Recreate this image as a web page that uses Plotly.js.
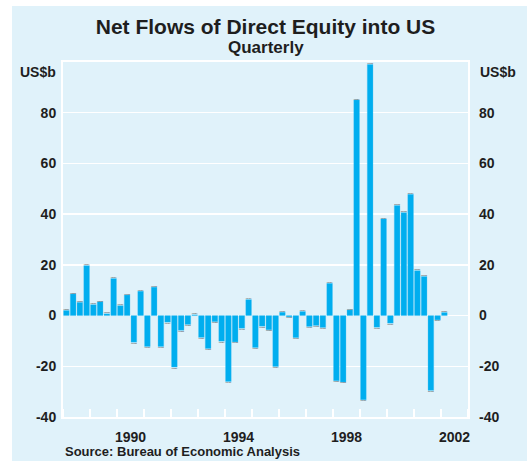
<!DOCTYPE html>
<html>
<head>
<meta charset="utf-8">
<script src="https://cdn.plot.ly/plotly-3.0.1.min.js"></script>
<style>
  html, body { margin: 0; padding: 0; background: #ffffff; }
  #chart { position: absolute; left: 12px; top: 6px; width: 515px; height: 455px; }
</style>
</head>
<body>
<div id="chart"></div>
<script>
// Quarterly periods, 1988 Q1 to 2002 Q1
const quarters = [];
for (let y = 1988; y <= 2002; y++) {
  for (let q = 1; q <= 4; q++) {
    if (y === 2002 && q > 1) break;
    quarters.push(y + 'Q' + q);
  }
}
// Net flows, US$b
const netFlows = [
  2.0, 8.5, 5.2, 19.7,
  4.3, 5.4, 0.7, 14.6,
  3.9, 8.1, -10.5, 9.6,
  -12.2, 11.2, -12.2, -2.6,
  -20.3, -5.8, -3.5, 0.3,
  -8.6, -13.0, -2.4, -10.1,
  -26.0, -10.4, -5.0, 6.3,
  -12.6, -4.2, -5.6, -20.1,
  1.3, -0.5, -8.7, 1.6,
  -4.3, -3.9, -4.7, 12.7,
  -25.7, -26.2, 2.2, 85.0,
  -33.2, 99.0, -4.6, 38.1,
  -3.0, 43.4, 40.6, 47.8,
  17.7, 15.4, -29.5, -1.7,
  1.2
];
const yearLabels = ['1990', '1994', '1998', '2002'];
const yTicks = [-40, -20, 0, 20, 40, 60, 80];

// position of each quarter (mid-quarter, in years)
const xPos = quarters.map(s => {
  const y = parseInt(s.slice(0, 4), 10);
  const q = parseInt(s.slice(5), 10);
  return y + (q - 0.5) / 4;
});
const yearLabelPos = yearLabels.map(s => parseInt(s, 10) + 0.5);

const FONT = 'Arial, "Liberation Sans", Helvetica, sans-serif';
const TXT = '#1e1e1e';
const BG = '#E0F2FA';

const trace = {
  type: 'bar',
  x: xPos,
  y: netFlows,
  text: quarters,
  hoverinfo: 'text+y',
  marker: { color: '#00AEEF', line: { color: '#3DBDF0', width: 0.3 } },
  showlegend: false
};

const layout = {
  width: 515,
  height: 455,
  margin: { l: 51, r: 59, t: 56, b: 44 },
  paper_bgcolor: BG,
  plot_bgcolor: BG,
  bargap: 0.16,
  font: { family: FONT, color: TXT, size: 14 },
  title: {
    text: '<b>Net Flows of Direct Equity into US</b>',
    font: { family: FONT, size: 21, color: TXT },
    x: 0.5, xref: 'paper', xanchor: 'center',
    y: 1 - 21 / 455, yref: 'container', yanchor: 'middle'
  },
  xaxis: {
    range: [1988, 2003],
    tickmode: 'array',
    tickvals: yearLabelPos,
    ticktext: yearLabels.map(s => '<b>' + s + '</b>'),
    ticks: '',
    ticklabelstandoff: 6,
    tickfont: { family: FONT, size: 14, color: TXT },
    showgrid: false,
    zeroline: false,
    showline: true, linecolor: '#ffffff', linewidth: 2, mirror: true,
    minor: { tickmode: 'linear', tick0: 1988, dtick: 1, ticks: 'inside', ticklen: 8, tickwidth: 1.5, tickcolor: '#ffffff', showgrid: false },
    fixedrange: true
  },
  yaxis: {
    range: [-40, 100],
    tickmode: 'array',
    tickvals: yTicks,
    ticktext: yTicks.map(v => '<b>' + v + '</b>'),
    ticks: '',
    ticklabelstandoff: 2,
    tickfont: { family: FONT, size: 14, color: TXT },
    showgrid: true, gridcolor: '#ffffff', gridwidth: 1.5,
    zeroline: true, zerolinecolor: '#ffffff', zerolinewidth: 1.5,
    showline: true, linecolor: '#ffffff', linewidth: 2, mirror: true,
    fixedrange: true
  },
  yaxis2: {
    overlaying: 'y',
    side: 'right',
    range: [-40, 100],
    tickmode: 'array',
    tickvals: yTicks,
    ticktext: yTicks.map(v => '<b>' + v + '</b>'),
    ticks: '',
    ticklabelstandoff: 10,
    tickfont: { family: FONT, size: 14, color: TXT },
    showgrid: false, zeroline: false, showline: false,
    fixedrange: true
  },
  annotations: [
    { text: '<b>Quarterly</b>', xref: 'paper', yref: 'paper', x: 0.5, y: (411 - 41) / 355,
      xanchor: 'center', yanchor: 'middle', showarrow: false, font: { family: FONT, size: 17, color: TXT } },
    { text: '<b>US$b</b>', xref: 'paper', yref: 'paper', x: -0.012, y: (411 - 66) / 355,
      xanchor: 'right', yanchor: 'middle', showarrow: false, font: { family: FONT, size: 14, color: TXT } },
    { text: '<b>US$b</b>', xref: 'paper', yref: 'paper', x: 1.025, y: (411 - 66) / 355,
      xanchor: 'left', yanchor: 'middle', showarrow: false, font: { family: FONT, size: 14, color: TXT } },
    { text: '<b>Source: Bureau of Economic Analysis</b>', xref: 'paper', yref: 'paper', x: -0.001, y: (411 - 445.7) / 355,
      xanchor: 'left', yanchor: 'middle', showarrow: false, font: { family: FONT, size: 13, color: TXT } }
  ]
};

// invisible trace to activate the right-hand axis
const rightAxisTrace = { type: 'scatter', x: [1988], y: [0], yaxis: 'y2', mode: 'markers', marker: { opacity: 0 }, hoverinfo: 'skip', showlegend: false };

Plotly.newPlot('chart', [trace, rightAxisTrace], layout, { displayModeBar: false, staticPlot: true });
</script>
</body>
</html>
